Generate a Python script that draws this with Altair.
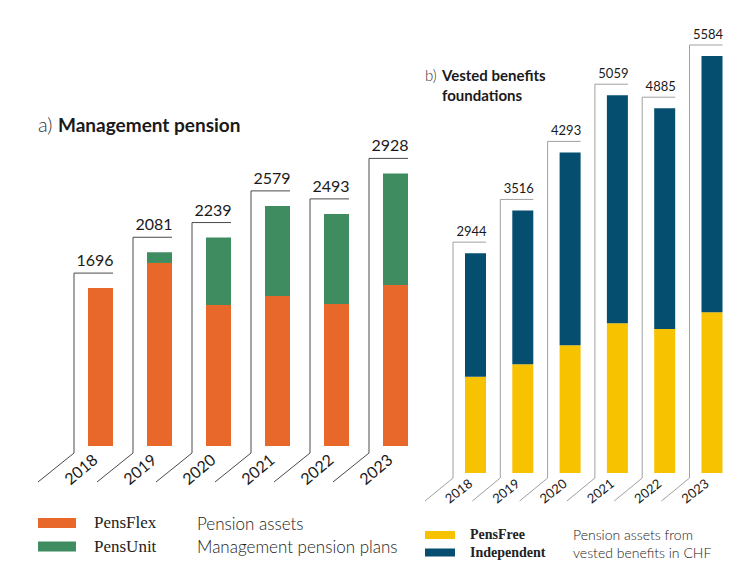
import altair as alt
import pandas as pd

years = [2018, 2019, 2020, 2021, 2022, 2023]

# a) Management pension (pension assets)
mgmt_series = ["PensFlex", "PensUnit"]
mgmt_colors = ["#E8672A", "#3E8C60"]
mgmt_totals = [1696, 2081, 2239, 2579, 2493, 2928]
pensflex = [1696, 1966, 1514, 1611, 1525, 1729]
pensunit = [0, 115, 725, 968, 968, 1199]

# b) Vested benefits foundations (pension assets in CHF)
vested_series = ["PensFree", "Independent"]
vested_colors = ["#F7C200", "#054E70"]
vested_totals = [2944, 3516, 4293, 5059, 4885, 5584]
pensfree = [1289, 1455, 1709, 2004, 1928, 2151]
independent = [1655, 2061, 2584, 3055, 2957, 3433]

SANS = "Lato"
SERIF = "Liberation Serif"
HEIGHT = 566


def long_table(series, a, b):
    return pd.DataFrame({
        "year": years * 2,
        "series": [series[0]] * len(years) + [series[1]] * len(years),
        "value": a + b,
        "rank": [0] * len(years) + [1] * len(years),
    })


def total_table(totals):
    return pd.DataFrame({"year": years, "total": totals, "base": [0] * len(years)})


def panel(long_df, tot_df, series, colors, lay):
    # linear scales laid out so that bars sit on a common baseline
    x_first, x_step, width = lay["x_first"], lay["x_step"], lay["width"]
    base_px, px_per_unit = lay["base_px"], lay["px_per_unit"]
    xs = alt.Scale(domain=[years[0] - x_first / x_step,
                           years[0] + (width - x_first) / x_step],
                   nice=False, zero=False, padding=0)
    ys = alt.Scale(domain=[-(HEIGHT - base_px) / px_per_unit, base_px / px_per_unit],
                   nice=False, zero=False, padding=0)
    X = alt.X("year:Q", scale=xs, axis=None)

    legend = alt.Legend(
        orient="none", legendX=lay["leg_x"], legendY=lay["leg_y"], title=None,
        symbolType=lay["leg_symbol"], symbolSize=lay["leg_size"],
        symbolStrokeWidth=0, symbolOpacity=1, clipHeight=lay["leg_clip"],
        rowPadding=lay["leg_rowpad"], padding=0,
        labelFont=SERIF, labelFontSize=lay["leg_fs"], labelFontWeight=lay["leg_fw"],
        labelColor="#222222", labelOffset=lay["leg_labeloff"],
    )

    bars = alt.Chart(long_df).mark_bar(size=lay["bar"]).encode(
        x=X,
        y=alt.Y("value:Q", stack="zero", scale=ys, axis=None),
        color=alt.Color("series:N", scale=alt.Scale(domain=series, range=colors),
                        legend=legend),
        order=alt.Order("rank:Q"),
    )

    rule_style = dict(color=lay["line_color"], strokeWidth=1)
    vert = alt.Chart(tot_df).mark_rule(
        xOffset=lay["b_left"], yOffset=lay["b_below"], y2Offset=-lay["b_above"], **rule_style
    ).encode(x=X, y=alt.Y("base:Q", scale=ys, axis=None), y2="total:Q")
    horiz = alt.Chart(tot_df).mark_rule(
        xOffset=lay["b_left"], x2Offset=lay["b_right"], yOffset=-lay["b_above"], **rule_style
    ).encode(x=X, x2="year:Q", y=alt.Y("total:Q", scale=ys, axis=None))
    diag = alt.Chart(tot_df).mark_rule(
        xOffset=lay["b_left"], x2Offset=lay["d_x"], yOffset=lay["b_below"],
        y2Offset=lay["d_y"], **rule_style
    ).encode(x=X, x2="year:Q", y=alt.Y("base:Q", scale=ys, axis=None), y2="base:Q")

    totals = alt.Chart(tot_df).mark_text(
        font=SANS, fontSize=lay["tot_fs"], color="#1a1a1a", align="center",
        baseline="alphabetic", xOffset=lay["tot_dx"], yOffset=lay["tot_dy"],
    ).encode(x=X, y=alt.Y("total:Q", scale=ys, axis=None),
             text=alt.Text("total:Q", format="d"))

    year_labels = alt.Chart(tot_df).mark_text(
        font=SANS, fontSize=lay["yr_fs"], color="#1a1a1a", align="center",
        baseline="middle", angle=lay["yr_angle"], xOffset=lay["yr_dx"], yOffset=lay["yr_dy"],
    ).encode(x=X, y=alt.Y("base:Q", scale=ys, axis=None),
             text=alt.Text("year:Q", format="d"))

    return [bars, vert, horiz, diag, totals, year_labels]


def label(text, x, y, size, weight="normal", font=SANS, color="#1a1a1a", line_height=None):
    kw = dict(font=font, fontSize=size, fontWeight=weight, color=color,
              align="left", baseline="alphabetic")
    if line_height:
        kw["lineHeight"] = line_height
    return alt.Chart(alt.Data(values=[{}])).mark_text(**kw).encode(
        x=alt.value(x), y=alt.value(y), text=alt.value(text))


LEFT_W = 420
RIGHT_W = 311

left_layout = dict(
    width=LEFT_W, x_first=100.5, x_step=59, base_px=446, px_per_unit=0.0931, bar=25,
    line_color="#4a4a4a", b_left=-26.5, b_right=12.5, b_above=15, b_below=7,
    d_x=-62.5, d_y=36, tot_fs=16, tot_dx=-5.5, tot_dy=-22,
    yr_fs=16, yr_angle=320, yr_dx=-19, yr_dy=24,
    leg_x=38, leg_y=513, leg_symbol="M-1,-0.263L1,-0.263L1,0.263L-1,0.263Z",
    leg_size=1444, leg_clip=20, leg_rowpad=3.5, leg_fs=17, leg_fw="normal",
    leg_labeloff=18,
)

right_layout = dict(
    width=RIGHT_W, x_first=55.5, x_step=47.3, base_px=473, px_per_unit=0.07468, bar=21,
    line_color="#a0a0a0", b_left=-22.5, b_right=10.5, b_above=11, b_below=5,
    d_x=-50.5, d_y=28, tot_fs=13, tot_dx=-4, tot_dy=-17,
    yr_fs=13, yr_angle=322, yr_dx=-16.5, yr_dy=18.5,
    leg_x=5, leg_y=527, leg_symbol="M-1,-0.267L1,-0.267L1,0.267L-1,0.267Z",
    leg_size=900, leg_clip=16, leg_rowpad=1.5, leg_fs=14, leg_fw="bold",
    leg_labeloff=15,
)

left_layers = panel(long_table(mgmt_series, pensflex, pensunit), total_table(mgmt_totals),
                    mgmt_series, mgmt_colors, left_layout)
left_layers += [
    label("a)", 38, 132, 20, weight=300, color="#333333"),
    label("Management pension", 58, 132, 19, weight="bold"),
    label("Pension assets", 197, 530, 17, weight=300),
    label("Management pension plans", 197, 553, 17, weight=300),
]
left = alt.layer(*left_layers).properties(width=LEFT_W, height=HEIGHT)

right_layers = panel(long_table(vested_series, pensfree, independent), total_table(vested_totals),
                     vested_series, vested_colors, right_layout)
right_layers += [
    label("b)", 5, 81, 15, weight=300, color="#333333"),
    label(["Vested benefits", "foundations"], 22, 81, 15, weight="bold", line_height=20),
    label(["Pension assets from", "vested benefits in CHF"], 153, 540, 14, weight=300,
          line_height=18),
]
right = alt.layer(*right_layers).properties(width=RIGHT_W, height=HEIGHT)

chart = (
    alt.hconcat(left, right, spacing=0)
    .resolve_scale(color="independent", x="independent", y="independent")
    .properties(padding=0, background="white")
    .configure_view(stroke=None)
)

chart.save("out.html", embed_options={"renderer": "svg", "actions": False})
